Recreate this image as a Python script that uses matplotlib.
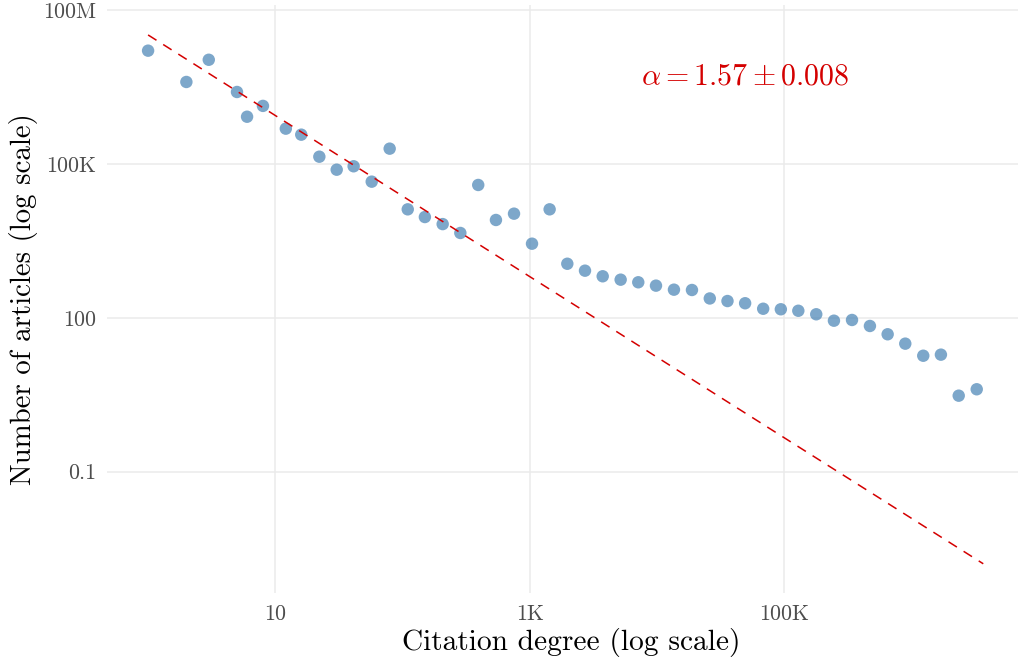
import numpy as np
import matplotlib
matplotlib.use("Agg")
import matplotlib.pyplot as plt

plt.rcParams['font.family'] = ['cmr10', 'DejaVu Serif']
plt.rcParams['mathtext.fontset'] = 'cm'
plt.rcParams['axes.formatter.use_mathtext'] = True

# Citation degree (x) and number of articles (y)
degree = [1.0, 2.0, 3.0, 5.0, 6.0, 8.0, 12.1, 16.0, 22.2, 30.4, 41.3, 57.3,
          79.3, 110.0, 150.0, 207.0, 285.0, 394.0, 543.0, 753.0, 1043.0,
          1435.0, 1976.0, 2722.0, 3750.0, 5190.0, 7140.0, 9840.0, 13620.0,
          18870.0, 26060.0, 35900.0, 49400.0, 68500.0, 94300.0, 129400.0,
          179000.0, 246600.0, 342000.0, 473000.0, 652000.0, 897000.0,
          1242000.0, 1710000.0, 2360000.0, 3270000.0]
articles = [1.61e7, 3.95e6, 1.07e7, 2.52e6, 8.3e5, 1.35e6, 4.86e5, 3.71e5,
            1.38e5, 7.7e4, 8.98e4, 4.5e4, 1.98e5, 1.30e4, 9.2e3, 6.7e3,
            4.5e3, 3.88e4, 8.06e3, 1.07e4, 2.78e3, 1.30e4, 1130.0, 828.0,
            644.0, 553.0, 492.0, 423.0, 353.0, 348.0, 238.0, 212.0, 192.0,
            150.0, 146.5, 137.0, 117.0, 87.7, 90.6, 69.2, 47.7, 31.3, 18.2,
            19.1, 3.03, 4.04]

# fitted power law: N = C * k^(-alpha)
alpha = 1.57
alpha_err = 0.008
fit_c = 3.26e7
fit_range = [1.0, 3.68e6]

xticks = [10, 1e3, 1e5]
xtick_labels = ['10', '1K', '100K']
yticks = [0.1, 100, 1e5, 1e8]
ytick_labels = ['0.1', '100', '100K', '100M']

W, H = 1023, 657
fig = plt.figure(figsize=(W / 100, H / 100), dpi=100)
left, right, top, bottom = 107, 1018, 5, 593
ax = fig.add_axes([left / W, 1 - bottom / H, (right - left) / W, (bottom - top) / H])

ax.set_xscale('log')
ax.set_yscale('log')
ax.set_xlim(10 ** -0.323, 10 ** 6.839)
ax.set_ylim(10 ** -3.365, 10 ** 8.097)

ax.set_xticks(xticks)
ax.set_xticklabels(xtick_labels)
ax.set_yticks(yticks)
ax.set_yticklabels(ytick_labels)
ax.minorticks_off()
ax.tick_params(axis='both', length=0, labelsize=15.8, colors='#4D4D4D', pad=8)
ax.tick_params(axis='x', pad=8.2)
for s in ax.spines.values():
    s.set_visible(False)
ax.grid(True, color='#EBEBEB', linewidth=1.1)
ax.set_axisbelow(True)

n = min(len(degree), len(articles))
ax.scatter(degree[:n], articles[:n], s=80, color='#4682B4', alpha=0.7,
           edgecolors='none', zorder=3)

fx = np.array(fit_range)
fy = fit_c * fx ** (-alpha)
ax.plot(fx, fy, color='#D40000', linewidth=1.1, dashes=(6.5, 5.2), zorder=4)

ax.text(10 ** 4.69, 10 ** 6.69, r'$\alpha = %.2f \pm %.3f$' % (alpha, alpha_err),
        color='#D40000', fontsize=21.5, ha='center', va='center')

ax.set_xlabel('Citation degree (log scale)', fontsize=21.2, color='black')
ax.xaxis.set_label_coords((571 - left) / (right - left), -(649.7 - bottom) / (bottom - top))
ax.xaxis.label.set_va('baseline')
ax.set_ylabel('Number of articles (log scale)', fontsize=20.8, color='black', labelpad=3.5)

fig.savefig('out.png', dpi=100)
